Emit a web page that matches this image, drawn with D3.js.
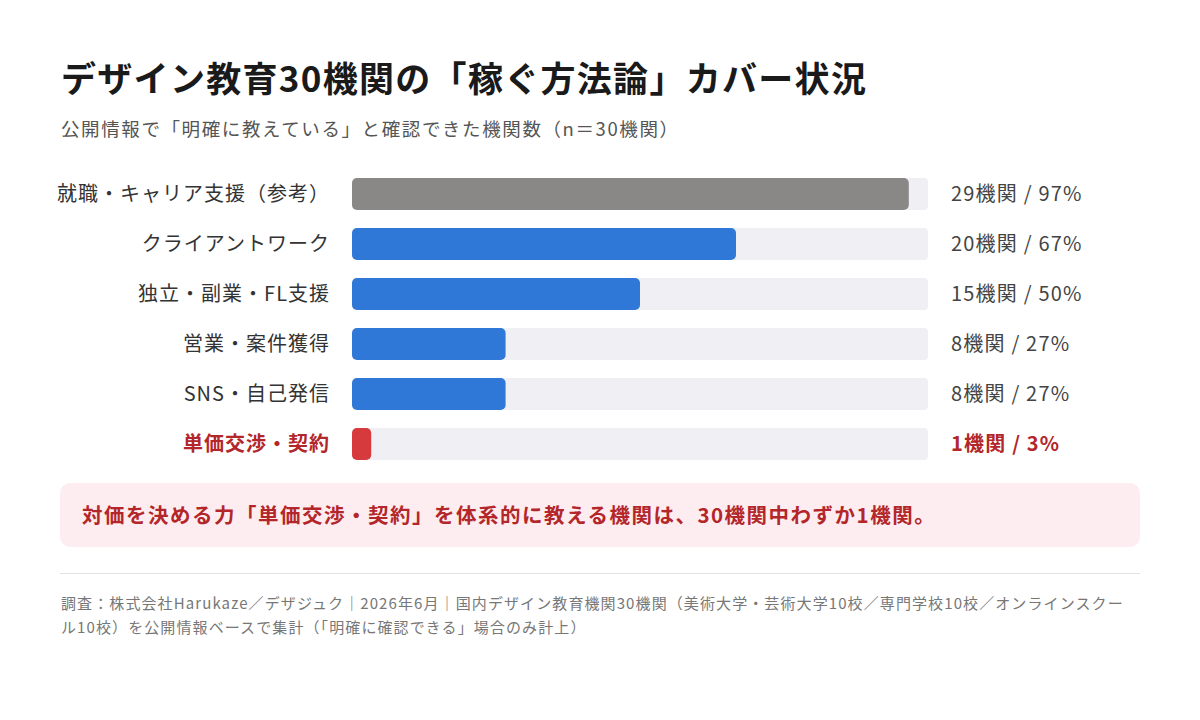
<!DOCTYPE html>
<html lang="ja">
<head>
<meta charset="utf-8">
<script src="https://cdn.jsdelivr.net/npm/d3@7"></script>
<style>
  body { margin: 0; background: #fff; }
  text { font-family: "Noto Sans CJK JP", "Noto Sans", sans-serif; }
</style>
</head>
<body>
<div id="vis-container"></div>
<script>
// data
var categories = ["就職・キャリア支援（参考）", "クライアントワーク", "独立・副業・FL支援", "営業・案件獲得", "SNS・自己発信", "単価交渉・契約"];
var counts = [29, 20, 15, 8, 8, 1];
var total = 30;
var kinds = ["ref", "normal", "normal", "normal", "normal", "highlight"];

var titleText = "デザイン教育30機関の「稼ぐ方法論」カバー状況";
var subtitleText = "公開情報で「明確に教えている」と確認できた機関数（n＝30機関）";
var calloutText = "対価を決める力「単価交渉・契約」を体系的に教える機関は、30機関中わずか1機関。";
var footLines = [
    "調査：株式会社Harukaze／デザジュク｜2026年6月｜国内デザイン教育機関30機関（美術大学・芸術大学10校／専門学校10校／オンラインスクー",
    "ル10校）を公開情報ベースで集計（「明確に確認できる」場合のみ計上）"
];

var rows = categories.map(function (c, i) {
    return { name: c, count: counts[i], pct: Math.round(counts[i] / total * 100), kind: kinds[i] };
});

var width = 1200, height = 720;
var colors = { ref: "#8a8887", normal: "#2f78d8", highlight: "#d63a3c" };

var svg = d3.select("#vis-container").append("svg")
    .attr("width", width)
    .attr("height", height);

// title + subtitle
svg.append("text")
    .attr("x", 61).attr("y", 92)
    .attr("font-size", 35).attr("font-weight", 700)
    .attr("letter-spacing", 1.3)
    .attr("fill", "#1a1a1a")
    .text(titleText);

svg.append("text")
    .attr("x", 61).attr("y", 136)
    .attr("font-size", 18.5)
    .attr("letter-spacing", 1.6)
    .attr("fill", "#555")
    .text(subtitleText);

// scales
var x = d3.scaleLinear().domain([0, total]).range([352, 928]);
var y = d3.scaleBand().domain(categories).range([169, 469]).paddingInner(0.36).paddingOuter(0.18);

var rowG = svg.append("g").selectAll("g")
    .data(rows).enter().append("g");

// background track
rowG.append("rect")
    .attr("x", x(0))
    .attr("y", d => y(d.name))
    .attr("width", x(total) - x(0))
    .attr("height", y.bandwidth())
    .attr("rx", 4)
    .attr("fill", "#f0eff4");

// bars
rowG.append("rect")
    .attr("x", x(0))
    .attr("y", d => y(d.name))
    .attr("width", d => x(d.count) - x(0))
    .attr("height", y.bandwidth())
    .attr("rx", 5)
    .attr("fill", d => colors[d.kind]);

// category labels
rowG.append("text")
    .attr("x", 330)
    .attr("y", d => y(d.name) + y.bandwidth() / 2)
    .attr("dy", "0.36em")
    .attr("text-anchor", "end")
    .attr("font-size", 20)
    .attr("letter-spacing", 1)
    .attr("font-weight", d => d.kind == "highlight" ? 700 : 400)
    .attr("fill", d => d.kind == "highlight" ? "#b3262a" : "#333")
    .text(d => d.name);

// value labels
rowG.append("text")
    .attr("x", 951)
    .attr("y", d => y(d.name) + y.bandwidth() / 2)
    .attr("dy", "0.36em")
    .attr("font-size", 20)
    .attr("letter-spacing", 1.2)
    .attr("font-weight", d => d.kind == "highlight" ? 700 : 400)
    .attr("fill", d => d.kind == "highlight" ? "#b3262a" : "#444")
    .text(d => d.count + "機関 / " + d.pct + "%");

// callout box
svg.append("rect")
    .attr("x", 60).attr("y", 483)
    .attr("width", 1080).attr("height", 64)
    .attr("rx", 10)
    .attr("fill", "#fdedf0");

svg.append("text")
    .attr("x", 82).attr("y", 516)
    .attr("dy", "0.36em")
    .attr("font-size", 20.5).attr("font-weight", 700)
    .attr("letter-spacing", 1.5)
    .attr("fill", "#b3262a")
    .text(calloutText);

// divider
svg.append("line")
    .attr("x1", 60).attr("x2", 1140)
    .attr("y1", 573.5).attr("y2", 573.5)
    .attr("stroke", "#e2e2e2");

// footnote
svg.append("g").selectAll("text")
    .data(footLines).enter().append("text")
    .attr("x", 61)
    .attr("y", (d, i) => 609 + i * 24)
    .attr("font-size", 15)
    .attr("letter-spacing", 1.1)
    .attr("fill", "#777")
    .text(d => d);
</script>
</body>
</html>
